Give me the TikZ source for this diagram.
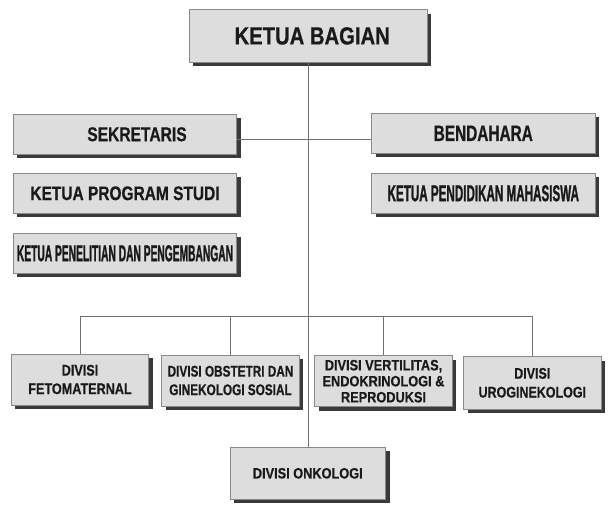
\documentclass[tikz,border=0pt]{standalone}
\usepackage{fontspec}
\setmainfont{Liberation Sans}
\usetikzlibrary{shadows}
\definecolor{boxfill}{HTML}{DDDDDD}
\definecolor{boxline}{HTML}{8A8A8A}
\definecolor{linec}{HTML}{707070}
\definecolor{shadowc}{HTML}{3A3A3A}
\definecolor{txt}{HTML}{1A1A1A}
\newfontfamily\fKB[FakeStretch=0.82,FakeBold=0.6]{Liberation Sans Bold}
\newfontfamily\fSEK[FakeStretch=0.78,FakeBold=0.6]{Liberation Sans Bold}
\newfontfamily\fKPS[FakeStretch=0.79,FakeBold=0.6]{Liberation Sans Bold}
\newfontfamily\fKPEN[FakeStretch=0.445,FakeBold=1.0]{Liberation Sans Bold}
\newfontfamily\fBEN[FakeStretch=0.69,FakeBold=0.7]{Liberation Sans Bold}
\newfontfamily\fKPM[FakeStretch=0.506,FakeBold=1.0]{Liberation Sans Bold}
\newfontfamily\fFETO[FakeStretch=0.82,FakeBold=0.5]{Liberation Sans Bold}
\newfontfamily\fOBS[FakeStretch=0.76,FakeBold=0.5]{Liberation Sans Bold}
\newfontfamily\fVER[FakeStretch=0.85,FakeBold=0.5]{Liberation Sans Bold}
\newfontfamily\fURO[FakeStretch=0.81,FakeBold=0.5]{Liberation Sans Bold}
\newfontfamily\fONK[FakeStretch=0.85,FakeBold=0.5]{Liberation Sans Bold}
\tikzset{
  orgbox/.style={draw=boxline, fill=boxfill, line width=0.8pt, inner sep=0pt, text=txt, align=center,
    drop shadow={shadow xshift=4pt, shadow yshift=-4pt, fill=shadowc, opacity=1}},
  topbox/.style={orgbox, minimum width=223.4pt, minimum height=40pt},
  divbox/.style={orgbox, minimum width=137.5pt, minimum height=51pt},
  conn/.style={draw=linec, line width=0.9pt}
}
\begin{document}
\begin{tikzpicture}[x=1pt,y=-1pt]
\useasboundingbox (0,0) rectangle (612,512);
% top
\node[orgbox, minimum width=237.5pt, minimum height=52.8pt, font=\fKB\fontsize{24.7}{30}\selectfont] (kb) at (308.2,35.9) {\hspace*{8pt}KETUA BAGIAN};
% left column
\node[topbox, font=\fSEK\fontsize{20}{24}\selectfont] (sek) at (125,134.3) {\hspace*{24pt}SEKRETARIS};
\node[topbox, font=\fKPS\fontsize{19.6}{24}\selectfont] (kps) at (125,193.3) {KETUA PROGRAM STUDI};
\node[topbox, font=\fKPEN\fontsize{23}{28}\selectfont] (kpen) at (125,253.3) {KETUA PENELITIAN DAN PENGEMBANGAN};
% right column
\node[topbox, font=\fBEN\fontsize{22.3}{27}\selectfont] (ben) at (483.3,133.3) {BENDAHARA};
\node[topbox, font=\fKPM\fontsize{23}{28}\selectfont] (kpm) at (483.3,193.3) {KETUA PENDIDIKAN MAHASISWA};
% divisions
\node[divbox, font=\fFETO\fontsize{15.4}{18.5}\selectfont] (feto) at (80,379.5)
  {DIVISI\\FETOMATERNAL};
\node[divbox, font=\fOBS\fontsize{15.5}{18.5}\selectfont] (obs) at (230.5,380.5)
  {DIVISI OBSTETRI DAN\\GINEKOLOGI SOSIAL};
\node[divbox, font=\fVER\fontsize{15}{16}\selectfont] (ver) at (383.5,381.2)
  {DIVISI VERTILITAS,\\ENDOKRINOLOGI \&\\REPRODUKSI};
\node[divbox, minimum height=52.3pt, font=\fURO\fontsize{15.4}{18.8}\selectfont] (uro) at (532.3,382.8)
  {DIVISI\\UROGINEKOLOGI};
\node[orgbox, minimum width=155.7pt, minimum height=52pt, font=\fONK\fontsize{15}{18}\selectfont] (onk) at (307.8,473.3)
  {DIVISI ONKOLOGI};
% connectors
\coordinate (hy) at (307.4,139.3);
\coordinate (bus) at (307.4,316.7);
\draw[conn] (kb.south) -- (kb.south |- onk.north);
\draw[conn] (sek.east |- hy) -- (ben.west |- hy);
\draw[conn] (feto.north) -- (feto.north |- bus) -- (uro.north |- bus) -- (uro.north);
\draw[conn] (obs.north) -- (obs.north |- bus);
\draw[conn] (ver.north) -- (ver.north |- bus);
\end{tikzpicture}
\end{document}
